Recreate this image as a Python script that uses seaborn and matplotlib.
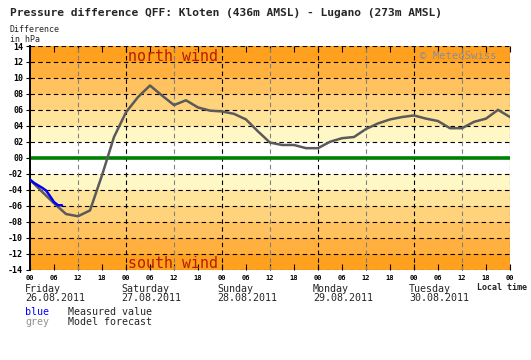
import numpy as np
import pandas as pd
import seaborn as sns
import matplotlib.pyplot as plt

# hours since Friday 26.08.2011 00:00 local time
model_hours = list(range(0, 121, 3))
model_hpa = [-2.75, -4.25, -5.7, -7.05, -7.33, -6.6, -2.2, 2.6, 5.7, 7.6,
             9.05, 7.8, 6.6, 7.2, 6.3, 5.9, 5.8, 5.5, 4.8, 3.3,
             1.9, 1.6, 1.6, 1.2, 1.2, 2.0, 2.45, 2.6, 3.6, 4.3,
             4.8, 5.1, 5.3, 4.9, 4.6, 3.7, 3.7, 4.5, 4.9, 6.0, 5.1]
measured_hours = [0, 1, 2, 3, 4, 5, 6, 7, 8]
measured_hpa = [-2.75, -3.15, -3.45, -3.75, -4.1, -4.8, -5.55, -5.95, -5.95]

day_names = ['Friday', 'Saturday', 'Sunday', 'Monday', 'Tuesday']
day_dates = ['26.08.2011', '27.08.2011', '28.08.2011', '29.08.2011', '30.08.2011']
band_edges = [2, 4, 6, 8, 10, 12, 14]
band_colors = ['#fff8c6', '#ffe49c', '#ffd27c', '#ffc25e', '#ffb03e', '#ffa01e']

df = pd.concat([
    pd.DataFrame({'hour': model_hours, 'hpa': model_hpa, 'kind': 'Model forecast'}),
    pd.DataFrame({'hour': measured_hours, 'hpa': measured_hpa, 'kind': 'Measured value'}),
])

sns.set_style('white')
plt.rcParams['font.family'] = ['DejaVu Sans Mono']

fig = plt.figure(figsize=(5.31, 3.60), dpi=100)
ax = fig.add_axes([30 / 531, 1 - 269.5 / 360, 480 / 531, 223.5 / 360])

# orange bands, symmetric around zero
for lo, hi, c in zip(band_edges[:-1], band_edges[1:], band_colors):
    ax.axhspan(lo, hi, color=c, lw=0, zorder=0)
    ax.axhspan(-hi, -lo, color=c, lw=0, zorder=0)

for v in range(-14, 15, 2):
    if v != 0:
        ax.axhline(v, color='black', lw=0.8, ls=(0, (4, 3)), zorder=1)
for d in range(0, 121, 24):
    if d > 0:
        ax.axvline(d, color='black', lw=0.8, ls=(0, (4, 3)), zorder=1)
for d in range(12, 121, 24):
    ax.axvline(d, color='#808080', lw=0.8, ls=(0, (4, 3)), zorder=1)
ax.axhline(0, color='#008000', lw=2.6, zorder=2)

sns.lineplot(data=df, x='hour', y='hpa', hue='kind',
             palette={'Model forecast': '#5a5a5a', 'Measured value': '#0000ff'},
             hue_order=['Model forecast', 'Measured value'],
             lw=1.8, legend=False, ax=ax, zorder=3)

ax.set_xlim(0, 120)
ax.set_ylim(-14, 14)
ax.set_xlabel('')
ax.set_ylabel('')
for s in ['top', 'right', 'bottom']:
    ax.spines[s].set_visible(False)
ax.spines['left'].set_color('black')
ax.spines['left'].set_linewidth(1.4)

yt = list(range(-14, 15, 2))
ax.set_yticks(yt)
ax.set_yticklabels([f'{v:03d}' if v < 0 else f'{v:02d}' for v in yt],
                   fontsize=6, fontweight='bold')
ax.tick_params(axis='y', left=True, direction='out', length=3, width=0.8,
               pad=2, colors='black')
xt = list(range(0, 121, 6))
ax.set_xticks(xt)
ax.set_xticklabels([f'{h % 24:02d}' for h in xt], fontsize=5, fontweight='bold')
ax.tick_params(axis='x', bottom=True, top=True, direction='in', length=4,
               width=0.8, pad=4, colors='black')

ax.text(0.205, 0.955, 'north wind', transform=ax.transAxes, fontsize=10.8,
        color='#b41e00', va='center', ha='left')
ax.text(0.205, 0.029, 'south wind', transform=ax.transAxes, fontsize=10.8,
        color='#b41e00', va='center', ha='left')
ax.text(0.813, 0.955, '© MeteoSwiss', transform=ax.transAxes, fontsize=7.7,
        color='#8c8c9c', va='center', ha='left')

for i, (name, date) in enumerate(zip(day_names, day_dates)):
    ax.annotate(f'{name}\n{date}', xy=(i * 24, 0), xycoords=('data', 'axes fraction'),
                xytext=(-5, -14), textcoords='offset pixels', fontsize=7.2,
                va='top', ha='left', linespacing=0.95)

fig.text(10 / 531, 1 - 12.5 / 360, 'Pressure difference QFF: Kloten (436m AMSL) - Lugano (273m AMSL)',
         fontsize=8.1, fontweight='bold', va='center', ha='left')
fig.text(9.5 / 531, 1 - 29 / 360, 'Difference', fontsize=6, va='center', ha='left')
fig.text(9.5 / 531, 1 - 39 / 360, 'in hPa', fontsize=6, va='center', ha='left')
fig.text(477 / 531, 1 - 287 / 360, 'Local time', fontsize=6, fontweight='bold',
         va='center', ha='left')
fig.text(25 / 531, 1 - 312 / 360, 'blue', fontsize=7.2, color='#0000ff', va='center')
fig.text(68 / 531, 1 - 312 / 360, 'Measured value', fontsize=7.2, va='center')
fig.text(25 / 531, 1 - 322 / 360, 'grey', fontsize=7.2, color='#909090', va='center')
fig.text(68 / 531, 1 - 322 / 360, 'Model forecast', fontsize=7.2, va='center')

fig.savefig('out.png', dpi=100, facecolor='white')
